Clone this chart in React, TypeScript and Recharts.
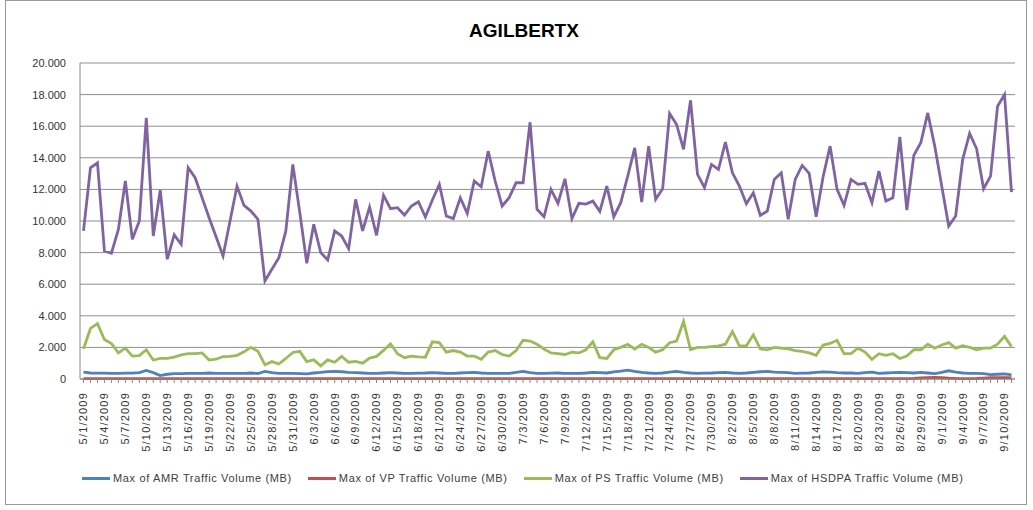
import React from "react";
import { LineChart, Line, XAxis, YAxis, CartesianGrid } from "recharts";

// categories: one per day, 5/1/2009 .. 9/11/2009
const dates = [
  "5/1/2009", "5/2/2009", "5/3/2009", "5/4/2009", "5/5/2009", "5/6/2009", "5/7/2009", "5/8/2009", "5/9/2009", "5/10/2009",
  "5/11/2009", "5/12/2009", "5/13/2009", "5/14/2009", "5/15/2009", "5/16/2009", "5/17/2009", "5/18/2009", "5/19/2009", "5/20/2009",
  "5/21/2009", "5/22/2009", "5/23/2009", "5/24/2009", "5/25/2009", "5/26/2009", "5/27/2009", "5/28/2009", "5/29/2009", "5/30/2009",
  "5/31/2009", "6/1/2009", "6/2/2009", "6/3/2009", "6/4/2009", "6/5/2009", "6/6/2009", "6/7/2009", "6/8/2009", "6/9/2009",
  "6/10/2009", "6/11/2009", "6/12/2009", "6/13/2009", "6/14/2009", "6/15/2009", "6/16/2009", "6/17/2009", "6/18/2009", "6/19/2009",
  "6/20/2009", "6/21/2009", "6/22/2009", "6/23/2009", "6/24/2009", "6/25/2009", "6/26/2009", "6/27/2009", "6/28/2009", "6/29/2009",
  "6/30/2009", "7/1/2009", "7/2/2009", "7/3/2009", "7/4/2009", "7/5/2009", "7/6/2009", "7/7/2009", "7/8/2009", "7/9/2009",
  "7/10/2009", "7/11/2009", "7/12/2009", "7/13/2009", "7/14/2009", "7/15/2009", "7/16/2009", "7/17/2009", "7/18/2009", "7/19/2009",
  "7/20/2009", "7/21/2009", "7/22/2009", "7/23/2009", "7/24/2009", "7/25/2009", "7/26/2009", "7/27/2009", "7/28/2009", "7/29/2009",
  "7/30/2009", "7/31/2009", "8/1/2009", "8/2/2009", "8/3/2009", "8/4/2009", "8/5/2009", "8/6/2009", "8/7/2009", "8/8/2009",
  "8/9/2009", "8/10/2009", "8/11/2009", "8/12/2009", "8/13/2009", "8/14/2009", "8/15/2009", "8/16/2009", "8/17/2009", "8/18/2009",
  "8/19/2009", "8/20/2009", "8/21/2009", "8/22/2009", "8/23/2009", "8/24/2009", "8/25/2009", "8/26/2009", "8/27/2009", "8/28/2009",
  "8/29/2009", "8/30/2009", "8/31/2009", "9/1/2009", "9/2/2009", "9/3/2009", "9/4/2009", "9/5/2009", "9/6/2009", "9/7/2009",
  "9/8/2009", "9/9/2009", "9/10/2009", "9/11/2009",
];

const amr = [
  430, 380, 370, 370, 360, 360, 370, 370, 400, 540,
  400, 220, 300, 340, 340, 350, 360, 350, 380, 360,
  350, 360, 350, 360, 380, 350, 480, 400, 360, 350,
  350, 340, 330, 380, 420, 470, 480, 460, 420, 400,
  380, 350, 360, 380, 400, 380, 350, 360, 370, 380,
  400, 380, 360, 350, 380, 400, 420, 380, 360, 350,
  350, 360, 420, 480, 400, 350, 350, 370, 380, 360,
  350, 360, 380, 420, 400, 380, 450, 500, 560, 480,
  420, 380, 350, 380, 440, 480, 420, 380, 350, 370,
  380, 400, 420, 380, 360, 380, 420, 460, 480, 430,
  420, 400, 360, 370, 380, 420, 450, 440, 400, 380,
  380, 360, 400, 440, 360, 380, 400, 420, 400, 380,
  420, 380, 340, 420, 520, 430, 380, 360, 350, 340,
  280, 300, 320, 260,
];

const vp = [
  20, 20, 20, 20, 20, 20, 20, 20, 20, 20,
  20, 20, 20, 20, 20, 20, 20, 20, 20, 20,
  20, 20, 20, 20, 20, 20, 20, 20, 20, 20,
  20, 20, 20, 20, 20, 20, 20, 20, 20, 20,
  20, 20, 20, 20, 20, 20, 20, 20, 20, 20,
  20, 20, 20, 20, 20, 20, 20, 20, 20, 20,
  20, 20, 20, 20, 20, 20, 20, 20, 20, 20,
  20, 20, 20, 20, 20, 20, 20, 20, 20, 20,
  20, 20, 20, 20, 20, 20, 20, 20, 20, 20,
  20, 20, 20, 20, 20, 20, 20, 20, 20, 20,
  20, 20, 20, 20, 20, 20, 20, 20, 20, 20,
  20, 20, 20, 20, 20, 20, 20, 20, 30, 40,
  70, 90, 100, 90, 60, 40, 30, 30, 40, 60,
  80, 90, 90, 80,
];

const ps = [
  1900, 3200, 3500, 2500, 2250, 1650, 1950, 1450, 1480, 1850,
  1200, 1300, 1300, 1380, 1520, 1600, 1600, 1650, 1200, 1250,
  1420, 1430, 1500, 1720, 2000, 1750, 900, 1100, 950, 1300,
  1680, 1750, 1100, 1210, 830, 1210, 1060, 1430, 1060, 1110,
  1000, 1320, 1430, 1810, 2230, 1600, 1350, 1450, 1400, 1380,
  2350, 2300, 1700, 1800, 1700, 1450, 1450, 1250, 1700, 1800,
  1550, 1450, 1800, 2450, 2400, 2200, 1900, 1650, 1600, 1550,
  1700, 1650, 1850, 2350, 1350, 1300, 1850, 2000, 2200, 1900,
  2200, 2000, 1700, 1850, 2300, 2400, 3650, 1850, 2000, 2000,
  2050, 2100, 2200, 3000, 2100, 2100, 2800, 1900, 1850, 2000,
  1950, 1900, 1800, 1750, 1650, 1500, 2150, 2250, 2450, 1600,
  1600, 1950, 1700, 1250, 1600, 1500, 1600, 1300, 1450, 1850,
  1850, 2200, 1950, 2150, 2300, 1950, 2100, 2000, 1850, 1950,
  1950, 2200, 2700, 2050,
];

const hsdpa = [
  9370, 13370, 13680, 8100, 7960, 9470, 12530, 8840, 10000, 16530,
  9050, 11960, 7580, 9120, 8530, 13370, 12740, 11470, 10210, 9010,
  7790, 10000, 12210, 10990, 10630, 10110, 6210, 6950, 7680, 9370,
  13580, 10530, 7330, 9790, 8000, 7540, 9370, 9050, 8250, 11370,
  9370, 10880, 9090, 11620, 10780, 10840, 10380, 10950, 11220, 10250,
  11330, 12320, 10320, 10150, 11470, 10480, 12530, 12170, 14420, 12530,
  10950, 11470, 12420, 12420, 16250, 10740, 10270, 12000, 11120, 12670,
  10150, 11120, 11070, 11260, 10610, 12210, 10270, 11160, 12840, 14630,
  11200, 14740, 11370, 12040, 16800, 16110, 14530, 17640, 12950, 12110,
  13580, 13260, 14990, 13050, 12210, 11090, 11790, 10360, 10630, 12630,
  13050, 10110, 12630, 13520, 13010, 10270, 12800, 14740, 12000, 10990,
  12630, 12320, 12380, 11160, 13160, 11260, 11470, 15330, 10690, 14150,
  14950, 16840, 14740, 12210, 9680, 10320, 13890, 15540, 14570, 12040,
  12840, 17260, 18000, 11830,
];

const yTicks = [0, 2000, 4000, 6000, 8000, 10000, 12000, 14000, 16000, 18000, 20000];

const series = [
  { key: "amr", name: "Max of AMR Traffic Volume (MB)", color: "#4F81BD" },
  { key: "vp", name: "Max of VP Traffic Volume (MB)", color: "#C0504D" },
  { key: "ps", name: "Max of PS Traffic Volume (MB)", color: "#9BBB59" },
  { key: "hsdpa", name: "Max of HSDPA Traffic Volume (MB)", color: "#8064A2" },
];

const data = dates.map((d, i) => ({
  date: d,
  amr: amr[i],
  vp: vp[i],
  ps: ps[i],
  hsdpa: hsdpa[i],
}));

const fmt = (v: number) => String(v).replace(/\B(?=(\d{3})+(?!\d))/g, ".");

// every day gets a tick mark, only every third day a label
const DateTick = (props: any) => {
  const { x, y, payload, index } = props;
  if (index % 3 !== 0) return <g />;
  return (
    <g transform={`translate(${x},${y + 7})`}>
      <text transform="rotate(-90)" textAnchor="end" dy="0.35em" fontSize={11} fill="#333" letterSpacing={1.2}>
        {payload.value}
      </text>
    </g>
  );
};

export default function App() {
  return (
    <div
      style={{
        position: "absolute",
        left: 5,
        top: 0,
        width: 1020,
        height: 503,
        border: "1px solid #9a9a9a",
        background: "#fff",
        fontFamily: "'Liberation Sans', Arial, sans-serif",
      }}
    >
      <div
        style={{
          position: "absolute",
          left: 418,
          width: 200,
          top: 19,
          textAlign: "center",
          fontSize: 19,
          fontWeight: "bold",
          color: "#000",
        }}
      >
        AGILBERTX
      </div>
      <LineChart width={1020} height={503} data={data} margin={{ top: 62, right: 11, bottom: 0, left: 0 }}>
        <CartesianGrid vertical={false} stroke="#8f8f8f" />
        <XAxis
          dataKey="date"
          interval={0}
          height={125}
          tick={<DateTick />}
          tickSize={4}
          stroke="#888"
          padding={{ left: 3.5, right: 3.5 }}
        />
        <YAxis
          width={74}
          domain={[0, 20000]}
          ticks={yTicks}
          tickFormatter={fmt}
          tickLine={false}
          tickMargin={8}
          stroke="#888"
          tick={{ fontSize: 11, fill: "#333" }}
        />
        {series.map((s) => (
          <Line
            key={s.key}
            type="linear"
            dataKey={s.key}
            name={s.name}
            stroke={s.color}
            strokeWidth={2.8}
            dot={false}
            isAnimationActive={false}
          />
        ))}
      </LineChart>
      <div
        style={{
          position: "absolute",
          left: 76,
          top: 471,
          display: "flex",
          alignItems: "center",
          fontSize: 11,
          color: "#404040",
          letterSpacing: 0.65,
          whiteSpace: "nowrap",
        }}
      >
        {series.map((s) => (
          <span key={s.key} style={{ display: "flex", alignItems: "center", marginRight: 16 }}>
            <span style={{ display: "inline-block", width: 28, height: 3, background: s.color, marginRight: 3 }} />
            {s.name}
          </span>
        ))}
      </div>
    </div>
  );
}
